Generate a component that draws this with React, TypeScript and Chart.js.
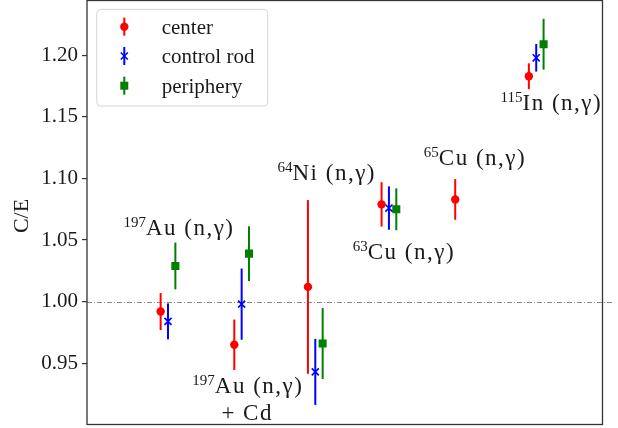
import { useEffect, useRef } from 'react';
import { Chart, registerables } from 'chart.js';

Chart.register(...registerables);

// Reactions measured at three positions (group index on the x axis)
const reactions = ['197Au (n,γ)', '197Au (n,γ) + Cd', '64Ni (n,γ)', '63Cu (n,γ)', '65Cu (n,γ)', '115In (n,γ)'];
const groupIndex = [0, 1, 2, 3, 4, 5];

// C/E ratios and their uncertainties per position (null = not measured)
const centerValues = [0.992, 0.965, 1.012, 1.079, 1.083, 1.183];
const centerErrors = [0.015, 0.0205, 0.0705, 0.018, 0.0165, 0.0105];
const controlRodValues = [0.984, 0.998, 0.943, 1.076, null, 1.198];
const controlRodErrors = [0.0146, 0.0289, 0.0268, 0.0176, null, 0.0112];
const peripheryValues = [1.029, 1.039, 0.966, 1.075, null, 1.209];
const peripheryErrors = [0.019, 0.0222, 0.0288, 0.017, null, 0.0206];

const seriesNames = ['center', 'control rod', 'periphery'];
const seriesColors = ['#ff0000', '#0000ff', '#008000'];
const seriesOffsets = [-0.1, 0, 0.1];

// Axis settings
const xMin = -1.1;
const xMax = 5.9;
const yMin = 0.9003;
const yMax = 1.2445;
const yTickValues = [0.95, 1.0, 1.05, 1.1, 1.15, 1.2];
const yTickLabels = ['0.95', '1.00', '1.05', '1.10', '1.15', '1.20'];
const yTitle = 'C/E';
const refValue = 1.0;
const refLineEnd = 6.06;

// Reaction labels: superscript mass number, main text, anchor (x, baseline y) in data units
const labelSup = ['197', '197', '', '64', '63', '65', '115'];
const labelMain = ['Au (n,γ)', 'Au (n,γ)', '+ Cd', 'Ni (n,γ)', 'Cu (n,γ)', 'Cu (n,γ)', 'In (n,γ)'];
const labelX = [0.149, 1.084, 1.075, 2.155, 3.203, 4.169, 5.206];
const labelY = [1.0541, 0.9261, 0.904, 1.0988, 1.0344, 1.111, 1.1557];

const SERIF = '"Liberation Serif", "Times New Roman", serif';
const TEXT = '#1a1a1a';

const allValues = [centerValues, controlRodValues, peripheryValues];
const allErrors = [centerErrors, controlRodErrors, peripheryErrors];

function drawMarker(ctx: CanvasRenderingContext2D, style: number, x: number, y: number, color: string) {
  ctx.save();
  ctx.fillStyle = color;
  ctx.strokeStyle = color;
  if (style === 0) {
    ctx.beginPath();
    ctx.arc(x, y, 4.2, 0, Math.PI * 2);
    ctx.fill();
  } else if (style === 1) {
    ctx.lineWidth = 1.6;
    const d = 3.5;
    ctx.beginPath();
    ctx.moveTo(x - d, y - d);
    ctx.lineTo(x + d, y + d);
    ctx.moveTo(x - d, y + d);
    ctx.lineTo(x + d, y - d);
    ctx.stroke();
  } else {
    ctx.fillRect(x - 4, y - 4, 8, 8);
  }
  ctx.restore();
}

const errorBarPlugin = {
  id: 'errorBars',
  beforeDatasetsDraw(chart: any) {
    const { ctx, scales } = chart;
    const x = scales.x;
    const y = scales.y;
    ctx.save();
    // dash-dot reference line at C/E = 1
    ctx.strokeStyle = '#8a8a8a';
    ctx.lineWidth = 1;
    ctx.setLineDash([5, 2, 1, 2]);
    const yr = Math.round(y.getPixelForValue(refValue)) + 0.5;
    ctx.beginPath();
    ctx.moveTo(x.getPixelForValue(xMin), yr);
    ctx.lineTo(x.getPixelForValue(refLineEnd), yr);
    ctx.stroke();
    ctx.restore();
  },
  beforeDatasetDraw(chart: any, args: any) {
    const i = args.index;
    const { ctx, scales } = chart;
    const x = scales.x;
    const y = scales.y;
    const vals = allValues[i];
    const errs = allErrors[i];
    ctx.save();
    ctx.strokeStyle = seriesColors[i];
    ctx.lineWidth = 2;
    groupIndex.forEach((g, k) => {
      const v = vals[k];
      const e = errs[k];
      if (v == null || e == null) return;
      const px = x.getPixelForValue(g + seriesOffsets[i]);
      ctx.beginPath();
      ctx.moveTo(px, y.getPixelForValue(v - e));
      ctx.lineTo(px, y.getPixelForValue(v + e));
      ctx.stroke();
    });
    ctx.restore();
  },
};

const decorPlugin = {
  id: 'decor',
  afterDraw(chart: any) {
    const { ctx, chartArea, scales } = chart;
    const x = scales.x;
    const y = scales.y;
    ctx.save();

    // axes frame
    ctx.strokeStyle = '#333333';
    ctx.lineWidth = 1.3;
    ctx.strokeRect(chartArea.left, chartArea.top, chartArea.right - chartArea.left, chartArea.bottom - chartArea.top);

    // y axis title
    ctx.save();
    ctx.translate(22.5, 216);
    ctx.rotate(-Math.PI / 2);
    ctx.font = `22px ${SERIF}`;
    ctx.fillStyle = TEXT;
    ctx.textAlign = 'center';
    ctx.textBaseline = 'middle';
    ctx.fillText(yTitle, 0, 0);
    ctx.restore();

    // reaction labels
    const mainFont = `23px ${SERIF}`;
    const supFont = `15px ${SERIF}`;
    labelMain.forEach((txt, k) => {
      const sup = labelSup[k];
      ctx.letterSpacing = '0px';
      ctx.font = supFont;
      const ws = sup ? ctx.measureText(sup).width : 0;
      ctx.font = mainFont;
      ctx.letterSpacing = '1.5px';
      const wm = ctx.measureText(txt).width;
      const cx = x.getPixelForValue(labelX[k]);
      const by = y.getPixelForValue(labelY[k]);
      const left = cx - (ws + wm) / 2;
      ctx.fillStyle = TEXT;
      ctx.textAlign = 'left';
      ctx.textBaseline = 'alphabetic';
      ctx.fillText(txt, left + ws, by);
      if (sup) {
        ctx.letterSpacing = '0px';
        ctx.font = supFont;
        ctx.fillText(sup, left, by - 8);
      }
    });
    ctx.letterSpacing = '0px';

    // legend
    const bx = 96.7, byTop = 9.3, bw = 171, bh = 96.7;
    ctx.beginPath();
    ctx.roundRect(bx, byTop, bw, bh, 4);
    ctx.fillStyle = 'rgba(255,255,255,0.8)';
    ctx.fill();
    ctx.strokeStyle = '#d4d4d4';
    ctx.lineWidth = 1;
    ctx.stroke();
    const rowY = [26.7, 56, 85.7];
    seriesNames.forEach((name, i) => {
      const my = rowY[i];
      const mx = 124.3;
      ctx.strokeStyle = seriesColors[i];
      ctx.lineWidth = 2;
      ctx.beginPath();
      ctx.moveTo(mx, my - 9);
      ctx.lineTo(mx, my + 9);
      ctx.stroke();
      drawMarker(ctx, i, mx, my, seriesColors[i]);
      ctx.font = `21px ${SERIF}`;
      ctx.fillStyle = TEXT;
      ctx.textAlign = 'left';
      ctx.textBaseline = 'alphabetic';
      ctx.fillText(name, 161.7, my + 6.8);
    });

    ctx.restore();
  },
};

export default function App() {
  const canvasRef = useRef<HTMLCanvasElement | null>(null);

  useEffect(() => {
    const canvas = canvasRef.current;
    if (!canvas) return;
    const pointStyles = ['circle', 'crossRot', 'rect'];
    const radii = [4.2, 5, 5.7];
    const datasets = seriesNames.map((name, i) => ({
      label: name,
      data: groupIndex
        .map((g, k) => ({ x: g + seriesOffsets[i], y: allValues[i][k] }))
        .filter((p) => p.y != null),
      pointStyle: pointStyles[i],
      pointRadius: radii[i],
      pointHoverRadius: radii[i],
      backgroundColor: seriesColors[i],
      borderColor: seriesColors[i],
      pointBorderWidth: i === 1 ? 1.6 : 0,
      showLine: false,
    }));

    const chart = new Chart(canvas, {
      type: 'scatter',
      data: { datasets },
      options: {
        responsive: false,
        animation: false,
        events: [],
        layout: { autoPadding: false, padding: { left: 0, top: 0.5, right: 15.5, bottom: 3.5 } },
        plugins: {
          legend: { display: false },
          tooltip: { enabled: false },
          title: { display: false },
        },
        scales: {
          x: {
            type: 'linear',
            min: xMin,
            max: xMax,
            display: false,
          },
          y: {
            type: 'linear',
            min: yMin,
            max: yMax,
            afterFit: (s: any) => {
              s.width = 87;
              s.paddingTop = 0;
              s.paddingBottom = 0;
            },
            afterBuildTicks: (s: any) => {
              s.ticks = yTickValues.map((v) => ({ value: v }));
            },
            border: { display: false },
            grid: {
              display: true,
              drawOnChartArea: false,
              drawTicks: true,
              tickLength: 5,
              color: '#333333',
              lineWidth: 1.2,
            },
            ticks: {
              padding: 4,
              color: TEXT,
              font: { family: SERIF, size: 21 },
              callback: (_v: any, idx: number) => yTickLabels[idx],
            },
          },
        },
      },
      plugins: [errorBarPlugin, decorPlugin],
    } as any);

    return () => chart.destroy();
  }, []);

  return (
    <div style={{ position: 'fixed', left: 0, top: 0, width: 618, height: 428, background: '#ffffff' }}>
      <canvas ref={canvasRef} width={618} height={428} style={{ display: 'block' }} />
    </div>
  );
}
